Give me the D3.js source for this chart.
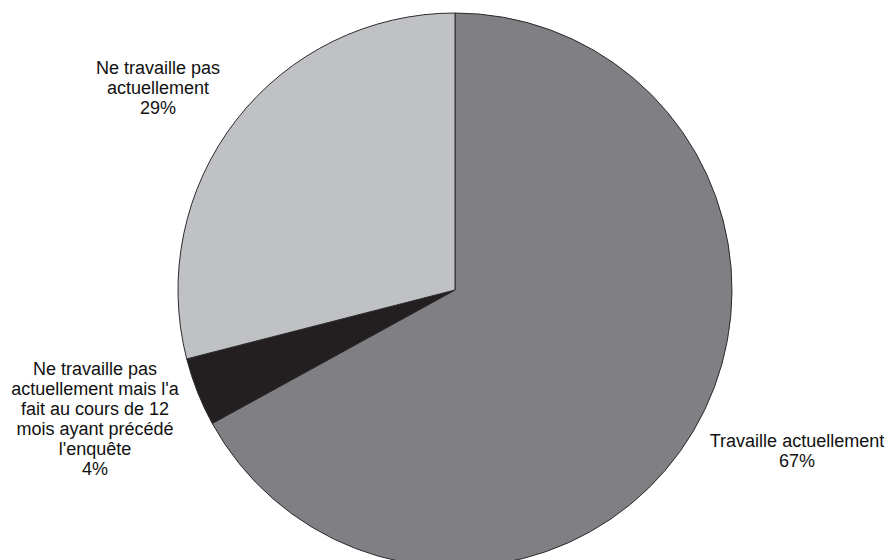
<!DOCTYPE html>
<html><head><meta charset="utf-8">
<script src="https://cdn.jsdelivr.net/npm/d3@7"></script>
<style>body{margin:0;background:#fff}svg{display:block}</style>
</head><body>
<script>
const categories = ["Travaille actuellement", "Ne travaille pas actuellement mais l'a fait au cours de 12 mois ayant précédé l'enquête", "Ne travaille pas actuellement"];
const values = [67, 4, 29];
const colors = ["#808084", "#231f20", "#c0c1c5"];
const labelLines = [
  ["Travaille actuellement", "67%"],
  ["Ne travaille pas", "actuellement mais l'a", "fait au cours de 12", "mois ayant précédé", "l'enquête", "4%"],
  ["Ne travaille pas", "actuellement", "29%"]
];
const labelPos = [[797, 441], [95, 369], [158, 68]];

const W = 891, H = 560;
const svg = d3.select("body").append("svg").attr("width", W).attr("height", H);
const cx = 455, cy = 290, R = 277;
const pie = d3.pie().sort(null).value(d => d)(values);
const arc = d3.arc().innerRadius(0).outerRadius(R);
const g = svg.append("g").attr("transform", `translate(${cx},${cy})`);
g.selectAll("path").data(pie).enter().append("path")
  .attr("d", arc).attr("fill", (d, i) => colors[i])
  .attr("stroke", "#2b2b2b").attr("stroke-width", 1).attr("stroke-linejoin", "round");

const lh = 20;
labelLines.forEach((lines, i) => {
  const t = svg.append("text")
    .attr("text-anchor", "middle")
    .attr("font-family", "Liberation Sans, Arial, sans-serif")
    .attr("font-size", 18).attr("fill", "#111");
  lines.forEach((l, j) => {
    t.append("tspan").attr("x", labelPos[i][0]).attr("y", labelPos[i][1] + 6 + j * lh).text(l);
  });
});
</script>
</body></html>
